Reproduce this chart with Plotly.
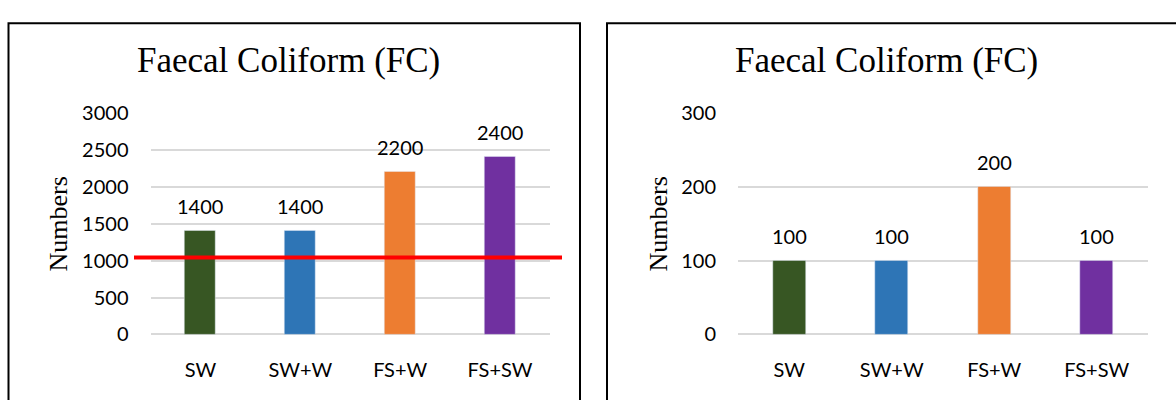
import plotly.graph_objects as go

# Sample groups and faecal coliform counts for the two sampling sets
categories = ["SW", "SW+W", "FS+W", "FS+SW"]
counts_left = [1400, 1400, 2200, 2400]
counts_right = [100, 100, 200, 100]
bar_colors = ["#375623", "#2E75B6", "#ED7D31", "#7030A0"]
limit_left = 1040  # reference limit line drawn on the left chart

W, H = 1176, 400
label_font = dict(family="Lato, Open Sans, sans-serif", size=20, color="#000000")
serif = "Liberation Serif, Times New Roman, serif"

fig = go.Figure()
fig.add_trace(go.Bar(x=categories, y=counts_left, marker_color=bar_colors,
                     width=0.31, xaxis="x", yaxis="y", showlegend=False))
fig.add_trace(go.Bar(x=categories, y=counts_right, marker_color=bar_colors,
                     width=0.32, xaxis="x2", yaxis="y2", showlegend=False))

# value labels above each bar
annotations = []
for xa, ya, vals in (("x", "y", counts_left), ("x2", "y2", counts_right)):
    for c, v in zip(categories, vals):
        annotations.append(dict(x=c, y=v, xref=xa, yref=ya, text=str(v),
                                showarrow=False, yanchor="bottom", yshift=11,
                                font=label_font))

# titles and axis titles
for cx, ax in ((288 / W, 58 / W), (886 / W, 658 / W)):
    annotations.append(dict(x=cx, y=1 - 50 / H, xref="paper", yref="paper",
                            text="Faecal Coliform (FC)", showarrow=False,
                            xanchor="center", yanchor="middle",
                            font=dict(family=serif, size=35, color="#000000")))
    annotations.append(dict(x=ax, y=1 - 225 / H, xref="paper", yref="paper",
                            text="Numbers", showarrow=False, textangle=-90,
                            xanchor="center", yanchor="middle",
                            font=dict(family=serif, size=26, color="#000000")))

axis_common = dict(showline=False, ticks="", tickfont=label_font,
                   fixedrange=True)
ydom = [1 - 342 / H, 1 - 106 / H]

fig.update_layout(
    width=W, height=H,
    margin=dict(l=0, r=0, t=0, b=0),
    paper_bgcolor="white", plot_bgcolor="white",
    bargap=0,
    xaxis=dict(domain=[150.5 / W, 550 / W], anchor="y", showgrid=False,
               ticklabelstandoff=22, **axis_common),
    yaxis=dict(domain=ydom, anchor="x", range=[0, 3000], dtick=500,
               showgrid=True, gridcolor="#D9D9D9", gridwidth=1.5,
               zeroline=True, zerolinecolor="#D9D9D9", zerolinewidth=1.5,
               ticklabelstandoff=21, **axis_common),
    xaxis2=dict(domain=[738 / W, 1148 / W], anchor="y2", showgrid=False,
                ticklabelstandoff=22, **axis_common),
    yaxis2=dict(domain=ydom, anchor="x2", range=[0, 300], dtick=100,
                showgrid=True, gridcolor="#D9D9D9", gridwidth=1.5,
                zeroline=True, zerolinecolor="#D9D9D9", zerolinewidth=1.5,
                ticklabelstandoff=21, **axis_common),
    annotations=annotations,
    shapes=[
        # panel frames
        dict(type="rect", xref="paper", yref="paper", x0=8.5 / W, x1=580 / W,
             y0=-0.05, y1=1 - 11 / H, line=dict(color="#000000", width=2)),
        dict(type="rect", xref="paper", yref="paper", x0=607 / W, x1=1.05,
             y0=-0.05, y1=1 - 11 / H, line=dict(color="#000000", width=2)),
        # limit line across the left chart
        dict(type="line", xref="paper", yref="y", x0=134 / W, x1=562 / W,
             y0=limit_left, y1=limit_left,
             line=dict(color="#FF0000", width=4)),
    ],
)

fig.write_html("out.html")
